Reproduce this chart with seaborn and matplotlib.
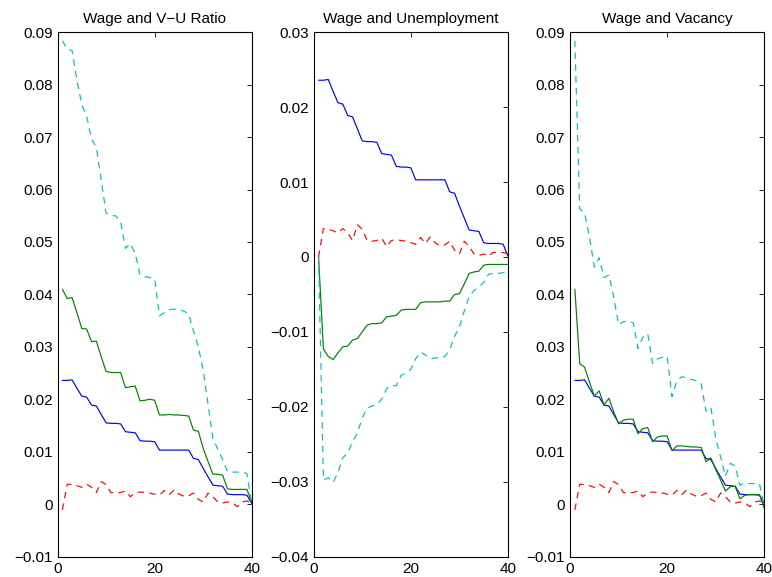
import numpy as np
import pandas as pd
import matplotlib
matplotlib.use("Agg")
import matplotlib.pyplot as plt
from matplotlib.ticker import FixedLocator, FuncFormatter
import seaborn as sns

periods = list(range(1, 41))

wage = [0.0236, 0.0236, 0.0237, 0.0221, 0.0206, 0.0204, 0.0189, 0.0187, 0.0171, 0.0155,
        0.0154, 0.0154, 0.0153, 0.0138, 0.0137, 0.0136, 0.0121, 0.0120, 0.0120, 0.0119,
        0.0103, 0.0103, 0.0103, 0.0103, 0.0103, 0.0103, 0.0103, 0.0087, 0.0085, 0.0068,
        0.0052, 0.0036, 0.0035, 0.0034, 0.0019, 0.0018, 0.0018, 0.0018, 0.0017, 0.0001]

red_p13 = [-0.0011, 0.0038, 0.0037, 0.0035, 0.0032, 0.0038, 0.0032, 0.0022, 0.0043, 0.0037,
           0.0022, 0.0021, 0.0022, 0.0025, 0.0014, 0.0022, 0.0023, 0.0022, 0.0021, 0.0019,
           0.0017, 0.0026, 0.0018, 0.0027, 0.0019, 0.0015, 0.0016, 0.0021, 0.0009, 0.0004,
           0.0021, 0.0014, 0.0004, 0.0002, 0.0004, 0.0003, -0.0005, 0.0004, 0.0006, 0.0003]

red_p2 = [0.0000, 0.0038, 0.0037, 0.0035, 0.0032, 0.0038, 0.0032, 0.0022, 0.0043, 0.0037,
          0.0022, 0.0021, 0.0022, 0.0025, 0.0014, 0.0022, 0.0023, 0.0022, 0.0021, 0.0019,
          0.0017, 0.0026, 0.0018, 0.0027, 0.0019, 0.0015, 0.0016, 0.0021, 0.0009, 0.0004,
          0.0021, 0.0014, 0.0004, 0.0002, 0.0004, 0.0001, 0.0006, 0.0006, 0.0006, 0.0004]

green_vu = [0.0410, 0.0392, 0.0394, 0.0365, 0.0335, 0.0334, 0.0310, 0.0311, 0.0281, 0.0253,
            0.0251, 0.0251, 0.0251, 0.0222, 0.0224, 0.0225, 0.0197, 0.0198, 0.0200, 0.0198,
            0.0170, 0.0170, 0.0171, 0.0170, 0.0170, 0.0169, 0.0168, 0.0141, 0.0139, 0.0106,
            0.0081, 0.0057, 0.0057, 0.0055, 0.0029, 0.0028, 0.0028, 0.0028, 0.0028, 0.0003]

cyan_vu = [0.0884, 0.0868, 0.0865, 0.0808, 0.0762, 0.0740, 0.0697, 0.0680, 0.0618, 0.0555,
           0.0550, 0.0550, 0.0538, 0.0488, 0.0497, 0.0478, 0.0437, 0.0434, 0.0432, 0.0430,
           0.0359, 0.0365, 0.0371, 0.0372, 0.0371, 0.0368, 0.0363, 0.0330, 0.0300, 0.0255,
           0.0190, 0.0125, 0.0105, 0.0085, 0.0062, 0.0061, 0.0061, 0.0061, 0.0058, 0.0001]

green_u = [0.0000, -0.0123, -0.0133, -0.0137, -0.0128, -0.0120, -0.0119, -0.0111, -0.0109, -0.0100,
           -0.0091, -0.0089, -0.0089, -0.0088, -0.0080, -0.0079, -0.0078, -0.0071, -0.0070, -0.0070,
           -0.0070, -0.0061, -0.0060, -0.0060, -0.0060, -0.0060, -0.0059, -0.0059, -0.0050, -0.0049,
           -0.0036, -0.0022, -0.0020, -0.0019, -0.0011, -0.0010, -0.0010, -0.0010, -0.0010, -0.0010]

cyan_u = [0.0000, -0.0298, -0.0295, -0.0301, -0.0288, -0.0268, -0.0262, -0.0247, -0.0235, -0.0215,
          -0.0202, -0.0199, -0.0197, -0.0190, -0.0176, -0.0172, -0.0172, -0.0158, -0.0155, -0.0150,
          -0.0136, -0.0127, -0.0131, -0.0136, -0.0135, -0.0134, -0.0133, -0.0124, -0.0106, -0.0093,
          -0.0072, -0.0053, -0.0045, -0.0040, -0.0034, -0.0023, -0.0022, -0.0022, -0.0021, -0.0020]

green_v = [0.0410, 0.0268, 0.0261, 0.0233, 0.0206, 0.0216, 0.0189, 0.0202, 0.0176, 0.0153,
           0.0160, 0.0162, 0.0162, 0.0134, 0.0144, 0.0146, 0.0119, 0.0128, 0.0130, 0.0130,
           0.0102, 0.0111, 0.0111, 0.0110, 0.0109, 0.0109, 0.0108, 0.0081, 0.0088, 0.0066,
           0.0046, 0.0025, 0.0033, 0.0034, 0.0010, 0.0017, 0.0018, 0.0018, 0.0018, -0.0008]

cyan_v = [0.0884, 0.0563, 0.0555, 0.0510, 0.0452, 0.0470, 0.0432, 0.0437, 0.0395, 0.0342,
          0.0348, 0.0349, 0.0346, 0.0297, 0.0318, 0.0325, 0.0268, 0.0277, 0.0280, 0.0281,
          0.0205, 0.0235, 0.0243, 0.0241, 0.0238, 0.0235, 0.0230, 0.0177, 0.0185, 0.0125,
          0.0090, 0.0053, 0.0078, 0.0072, 0.0036, 0.0040, 0.0039, 0.0039, 0.0039, -0.0005]

titles = ["Wage and V\u2212U Ratio", "Wage and Unemployment", "Wage and Vacancy"]
ylims = [(-0.01, 0.09), (-0.04, 0.03), (-0.01, 0.09)]
xticks = [0, 20, 40]

panels = [
    dict(blue=wage, green=green_vu, red=red_p13, cyan=cyan_vu),
    dict(blue=wage, green=green_u, red=red_p2, cyan=cyan_u),
    dict(blue=wage, green=green_v, red=red_p13, cyan=cyan_v),
]

sns.set_theme(style="white")
plt.rcParams["font.family"] = ["Liberation Sans", "DejaVu Sans"]

W, H = 772, 577
fig = plt.figure(figsize=(W / 100, H / 100), dpi=100)
lefts = [57.5, 313.7, 570.0]
top_px, bot_px, width_px = 32.3, 556.5, 194.3

colors = {"blue": (0, 0, 1), "green": (0, 0.5, 0), "red": (1, 0, 0), "cyan": (0, 0.75, 0.75)}
styles = {"blue": "-", "green": "-", "red": (0, (5.5, 4.5)), "cyan": (0, (5.5, 4.5))}

def fmt(v, pos):
    if abs(v) < 1e-12:
        return "0"
    return f"{v:.2f}".replace("-", "\u2212")

for i, p in enumerate(panels):
    ax = fig.add_axes([lefts[i] / W, (H - bot_px) / H, width_px / W, (bot_px - top_px) / H])
    df = pd.DataFrame({"t": periods, **p})
    for key in ["blue", "green", "red", "cyan"]:
        sns.lineplot(data=df, x="t", y=key, ax=ax, color=colors[key],
                     linestyle=styles[key], linewidth=0.85)
    lo, hi = ylims[i]
    ax.set_xlim(0, 40)
    ax.set_ylim(lo, hi)
    yt = np.round(np.arange(lo, hi + 1e-9, 0.01), 2)
    ax.yaxis.set_major_locator(FixedLocator(yt))
    ax.xaxis.set_major_locator(FixedLocator(xticks))
    ax.yaxis.set_major_formatter(FuncFormatter(fmt))
    ax.xaxis.set_major_formatter(FuncFormatter(lambda v, pos: f"{int(v)}"))
    ax.set_xlabel("")
    ax.set_ylabel("")
    ax.tick_params(direction="in", length=3.6, width=0.6, color="black",
                   top=True, right=True, labelsize=11, pad=3.5, labelcolor="black")
    ax.tick_params(axis="x", pad=4.0)
    for s in ax.spines.values():
        s.set_color("black")
        s.set_linewidth(0.8)
        s.set_visible(True)
    ax.set_title(titles[i], fontsize=11, pad=7, color="black")
    ax.set_facecolor("white")

fig.savefig("out.png", dpi=100, facecolor="white")
